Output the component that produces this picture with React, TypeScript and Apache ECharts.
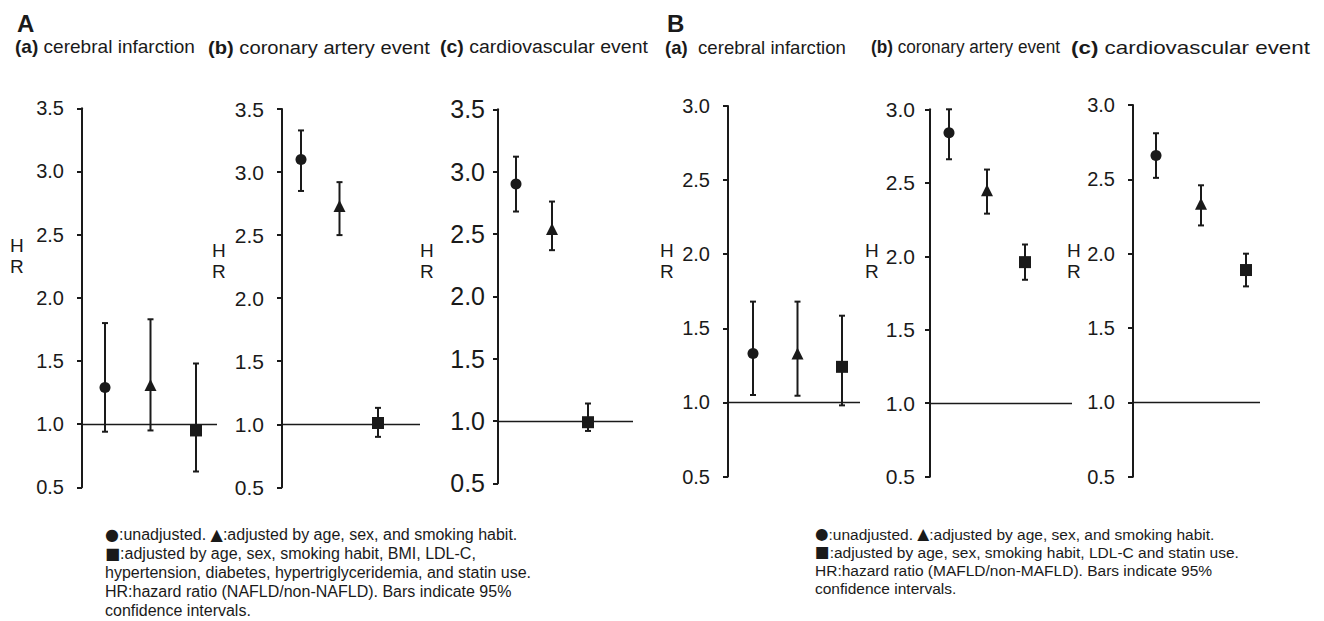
import React, { useEffect, useRef } from "react";
import * as echarts from "echarts";

// ---------- data (HR with 95% CI) ----------
const markerShapes = ["circle", "triangle", "rect"]; // unadjusted, partly adjusted, fully adjusted
const markerSizes = [11, 12, 12];

const aCerebralHR = [1.29, 1.31, 0.95];
const aCerebralLow = [0.94, 0.95, 0.625];
const aCerebralHigh = [1.8, 1.83, 1.48];

const aCoronaryHR = [3.1, 2.73, 1.01];
const aCoronaryLow = [2.85, 2.5, 0.9];
const aCoronaryHigh = [3.33, 2.92, 1.13];

const aCardioHR = [2.9, 2.54, 0.99];
const aCardioLow = [2.68, 2.37, 0.92];
const aCardioHigh = [3.12, 2.76, 1.14];

const bCerebralHR = [1.33, 1.33, 1.24];
const bCerebralLow = [1.05, 1.045, 0.98];
const bCerebralHigh = [1.68, 1.68, 1.585];

const bCoronaryHR = [2.84, 2.45, 1.96];
const bCoronaryLow = [2.66, 2.29, 1.84];
const bCoronaryHigh = [3.0, 2.59, 2.08];

const bCardioHR = [2.66, 2.335, 1.89];
const bCardioLow = [2.51, 2.19, 1.78];
const bCardioHigh = [2.81, 2.46, 2.0];

const yMin = 0.5;
const yStep = 0.5;
const yMaxA = 3.5;
const yMaxB = 3.0;
const refValue = 1.0;

const subtitlesA = [["(a)", " cerebral infarction"], ["(b)", " coronary artery event"], ["(c)", " cardiovascular event"]];
const subtitlesB = [["(a)", "  cerebral infarction"], ["(b)", " coronary artery event"], ["(c)", " cardiovascular event"]];

// legend lines: [symbol, text, symbol, text]
const legendA = [
  ["●", ":unadjusted. ", "▲", ":adjusted by age, sex, and smoking habit."],
  ["■", ":adjusted by age, sex, smoking habit, BMI, LDL-C,"],
  ["", "hypertension, diabetes, hypertriglyceridemia, and statin use."],
  ["", "HR:hazard ratio (NAFLD/non-NAFLD). Bars indicate 95%"],
  ["", "confidence intervals."],
];
const legendB = [
  ["●", ":unadjusted. ", "▲", ":adjusted by age, sex, and smoking habit."],
  ["■", ":adjusted by age, sex, smoking habit, LDL-C and statin use."],
  ["", "HR:hazard ratio (MAFLD/non-MAFLD). Bars indicate 95%"],
  ["", "confidence intervals."],
];

// ---------- layout ----------
const INK = "#1a1a1a";
const FONT = "'Liberation Sans', Arial, Helvetica, sans-serif";

const panels = [
  { hr: aCerebralHR, lo: aCerebralLow, hi: aCerebralHigh, yMax: yMaxA,
    L: { axisX: 82, endX: 217, x1: 105, x3: 196, top: 108.3, bottom: 487.3, margin: 18, font: 20, hrX: 10, hrTop: 235 } },
  { hr: aCoronaryHR, lo: aCoronaryLow, hi: aCoronaryHigh, yMax: yMaxA,
    L: { axisX: 282, endX: 420, x1: 301, x3: 378, top: 109, bottom: 487.3, margin: 18, font: 21, hrX: 212, hrTop: 239.5 } },
  { hr: aCardioHR, lo: aCardioLow, hi: aCardioHigh, yMax: yMaxA,
    L: { axisX: 498, endX: 633, x1: 516, x3: 588, top: 109.3, bottom: 483.3, margin: 13, font: 25, hrX: 420, hrTop: 239.5 } },
  { hr: bCerebralHR, lo: bCerebralLow, hi: bCerebralHigh, yMax: yMaxB,
    L: { axisX: 728, endX: 860, x1: 753, x3: 842, top: 106, bottom: 476.5, margin: 18, font: 20, hrX: 660, hrTop: 239.5 } },
  { hr: bCoronaryHR, lo: bCoronaryLow, hi: bCoronaryHigh, yMax: yMaxB,
    L: { axisX: 930, endX: 1072, x1: 949, x3: 1025, top: 109.3, bottom: 476.7, margin: 15, font: 21, hrX: 865, hrTop: 239.5 } },
  { hr: bCardioHR, lo: bCardioLow, hi: bCardioHigh, yMax: yMaxB,
    L: { axisX: 1133, endX: 1260, x1: 1156, x3: 1246, top: 105, bottom: 476.7, margin: 18, font: 20, hrX: 1067, hrTop: 239.5 } },
];

// subtitle extents [start, end] in px
const subSpan = [[15, 195], [208, 430], [440, 648], [665, 846], [871, 1060], [1071, 1310]];

function measure(text: string, font: string): number {
  try {
    const c = document.createElement("canvas").getContext("2d");
    if (!c) return 0;
    c.font = font;
    return c.measureText(text).width;
  } catch (e) {
    return 0;
  }
}

function buildOption() {
  const grid: any[] = [];
  const xAxis: any[] = [];
  const yAxis: any[] = [];
  const series: any[] = [];
  const graphic: any[] = [];

  panels.forEach((p, i) => {
    const L = p.L;
    const s = (L.x3 - L.x1) / 2;
    const xMin = 1 - (L.x1 - L.axisX) / s;
    const xMax = 3 + (L.endX - L.x3) / s;
    grid.push({ left: L.axisX, top: L.top, width: L.endX - L.axisX, height: L.bottom - L.top, containLabel: false });
    xAxis.push({ type: "value", gridIndex: i, min: xMin, max: xMax, show: false });
    yAxis.push({
      type: "value", gridIndex: i, min: yMin, max: p.yMax, interval: yStep,
      axisLine: { show: true, onZero: false, lineStyle: { color: INK, width: 2 } },
      axisTick: { show: true, inside: false, length: 5, lineStyle: { color: INK, width: 2 } },
      splitLine: { show: false },
      axisLabel: { color: INK, fontSize: L.font, fontFamily: FONT, margin: L.margin, formatter: (v: number) => v.toFixed(1) },
    });
    series.push({
      type: "custom", xAxisIndex: i, yAxisIndex: i, clip: false, silent: true, z: 2,
      data: p.hr.map((_, k) => [k + 1, p.lo[k], p.hi[k]]),
      renderItem: (params: any, api: any) => {
        const x = api.value(0);
        const a = api.coord([x, api.value(1)]);
        const b = api.coord([x, api.value(2)]);
        const cap = 3;
        const st = { stroke: INK, lineWidth: 2 };
        return {
          type: "group",
          children: [
            { type: "line", shape: { x1: a[0], y1: a[1], x2: b[0], y2: b[1] }, style: st },
            { type: "line", shape: { x1: b[0] - cap, y1: b[1], x2: b[0] + cap, y2: b[1] }, style: st },
            { type: "line", shape: { x1: a[0] - cap, y1: a[1], x2: a[0] + cap, y2: a[1] }, style: st },
          ],
        };
      },
    });
    series.push({
      type: "scatter", xAxisIndex: i, yAxisIndex: i, z: 3, silent: true,
      itemStyle: { color: INK, opacity: 1 },
      data: p.hr.map((v, k) => ({ value: [k + 1, v], symbol: markerShapes[k], symbolSize: markerSizes[k] })),
      markLine: {
        silent: true, symbol: ["none", "none"], label: { show: false },
        lineStyle: { color: INK, width: 1.3, type: "solid" },
        data: [{ yAxis: refValue }],
      },
    });
    graphic.push({
      type: "text", left: L.hrX, top: L.hrTop,
      style: { text: "H\nR", fill: INK, fontSize: 19, fontFamily: FONT, lineHeight: 21, align: "left" },
    });
  });

  graphic.push({ type: "text", left: 17, top: 11, style: { text: "A", fill: INK, fontSize: 24, fontWeight: "bold", fontFamily: FONT } });
  graphic.push({ type: "text", left: 667, top: 11, style: { text: "B", fill: INK, fontSize: 24, fontWeight: "bold", fontFamily: FONT } });

  [...subtitlesA, ...subtitlesB].forEach((t, i) => {
    const natural = measure(t[0], "bold 19px 'Liberation Sans'") + measure(t[1], "19px 'Liberation Sans'");
    const target = subSpan[i][1] - subSpan[i][0];
    const sx = natural > 0 ? target / natural : 1;
    graphic.push({
      type: "text", x: subSpan[i][0], y: 47, scaleX: sx,
      style: {
        text: "{b|" + t[0] + "}" + t[1], fill: INK, fontSize: 19, fontFamily: FONT, verticalAlign: "middle",
        rich: { b: { fontWeight: "bold", fontSize: 19, fontFamily: FONT, fill: INK } },
      },
    });
  });

  const legendText = (parts: string[]) => {
    let out = "";
    for (let k = 0; k < parts.length; k += 2) {
      if (parts[k]) out += "{s|" + parts[k] + "}";
      out += "{t|" + parts[k + 1] + "}";
    }
    return out;
  };
  const legendRich = (size: number, lh: number) => ({
    s: { fontSize: size, lineHeight: lh, fontFamily: "'DejaVu Sans', sans-serif", fill: INK, verticalAlign: "middle" },
    t: { fontSize: size, lineHeight: lh, fontFamily: FONT, fill: INK, verticalAlign: "middle" },
  });

  legendA.forEach((parts, k) => {
    graphic.push({ type: "text", x: 105, y: 534 + k * 19.2,
      style: { text: legendText(parts), rich: legendRich(16, 17), fill: INK, fontSize: 16, lineHeight: 17, fontFamily: FONT, verticalAlign: "middle" } });
  });
  legendB.forEach((parts, k) => {
    graphic.push({ type: "text", x: 815, y: 534 + k * 18,
      style: { text: legendText(parts), rich: legendRich(15.5, 16), fill: INK, fontSize: 15.5, lineHeight: 16, fontFamily: FONT, verticalAlign: "middle" } });
  });

  return { animation: false, backgroundColor: "#ffffff", grid, xAxis, yAxis, series, graphic };
}

export default function App() {
  const ref = useRef<HTMLDivElement>(null);
  useEffect(() => {
    if (!ref.current) return;
    const chart = echarts.init(ref.current, undefined, { renderer: "svg" });
    chart.setOption(buildOption() as any);
    return () => chart.dispose();
  }, []);
  return (
    <div
      ref={ref}
      style={{ position: "fixed", left: 0, top: 0, width: 1324, height: 621, background: "#fff" }}
    />
  );
}
